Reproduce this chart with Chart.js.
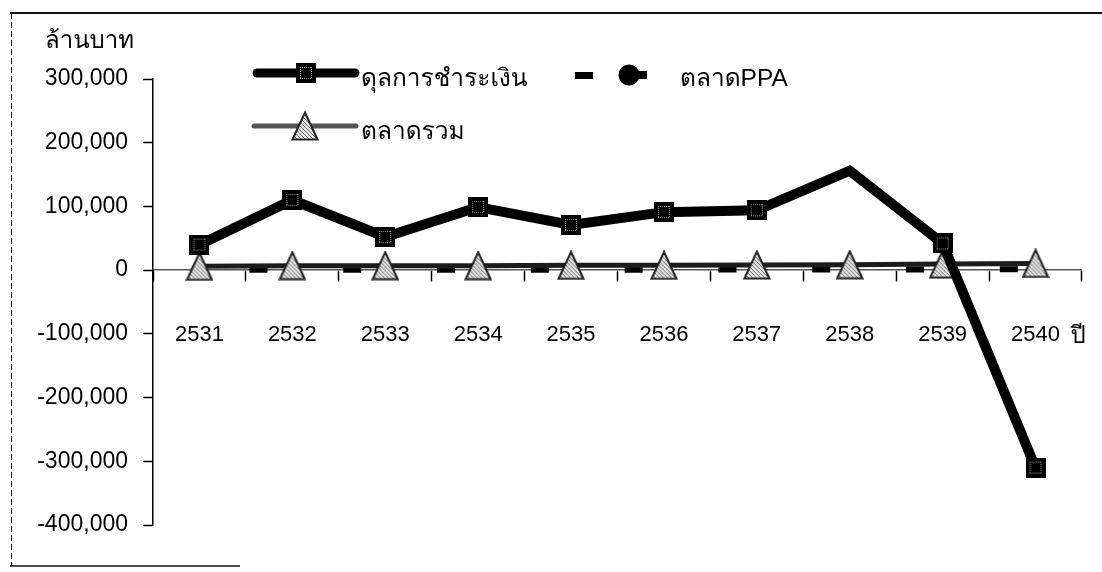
<!DOCTYPE html>
<html>
<head>
<meta charset="utf-8">
<script src="https://cdn.jsdelivr.net/npm/chart.js@4.4.1/dist/chart.umd.min.js"></script>
<style>
  html, body { margin: 0; padding: 0; background: #fff; }
  #wrap { width: 1102px; height: 572px; position: relative; }
</style>
</head>
<body>
<div id="wrap"><canvas id="c" width="1102" height="572"></canvas></div>
<script>
// Years (Buddhist era) on the category axis
const years = ['2531', '2532', '2533', '2534', '2535', '2536', '2537', '2538', '2539', '2540'];

// Series values, million baht
const balanceOfPayments = [40000, 110000, 52000, 99000, 71000, 91000, 94000, 156000, 42000, -310000];
const ppaMarket = [500, 500, 500, 500, 800, 800, 1000, 1000, 1200, 1500];
const totalMarket = [6000, 7000, 7000, 7000, 7500, 7500, 8000, 8500, 9500, 10500];

// Value axis range
const yMin = -400000;
const yMax = 300000;
const yStep = 100000;

// Labels
const seriesNames = ['ดุลการชำระเงิน', 'ตลาดPPA', 'ตลาดรวม'];
const yUnit = 'ล้านบาท';
const xUnit = 'ปี';

const FONT = "'Liberation Sans', Arial, 'Loma', 'Garuda', 'Norasi', 'Noto Sans Thai Looped', 'Noto Sans Thai', sans-serif";

// Square marker: solid black with a dotted grey inner outline
function makeSquare(size) {
  const c = document.createElement('canvas');
  c.width = size; c.height = size;
  const g = c.getContext('2d');
  g.fillStyle = '#000';
  g.fillRect(0, 0, size, size);
  g.fillStyle = '#999';
  for (let i = 4; i < size - 4; i += 2) {
    g.fillRect(i, 4, 1, 1); g.fillRect(i, size - 5, 1, 1);
    g.fillRect(4, i, 1, 1); g.fillRect(size - 5, i, 1, 1);
  }
  return c;
}

// Triangle marker: pale hatched body with a dark outline
function makeTriangle(w, h) {
  const c = document.createElement('canvas');
  c.width = w; c.height = h;
  const g = c.getContext('2d');
  const outline = () => {
    g.beginPath();
    g.moveTo(w / 2, 1.5);
    g.lineTo(w - 1.5, h - 1.5);
    g.lineTo(1.5, h - 1.5);
    g.closePath();
  };
  outline();
  g.fillStyle = '#e6e6e6';
  g.fill();
  g.save();
  g.clip();
  g.strokeStyle = '#666';
  g.lineWidth = 1;
  for (let k = -h; k < w + h; k += 4) {
    g.beginPath(); g.moveTo(k, 0); g.lineTo(k + h, h); g.stroke();
  }
  g.restore();
  outline();
  g.strokeStyle = '#222';
  g.lineWidth = 2;
  g.stroke();
  return c;
}

const squareMark = makeSquare(20);
const triMark = makeTriangle(28, 30);

// Page frame, unit captions and the legend block
const decorations = {
  id: 'decorations',
  beforeDraw(chart) {
    const ctx = chart.ctx;
    ctx.save();
    ctx.fillStyle = '#fff';
    ctx.fillRect(0, 0, chart.width, chart.height);
    ctx.strokeStyle = '#111';
    ctx.lineWidth = 2;
    ctx.beginPath(); ctx.moveTo(10, 13); ctx.lineTo(1102, 13); ctx.stroke();
    ctx.lineWidth = 1;
    ctx.setLineDash([6, 3]);
    ctx.beginPath(); ctx.moveTo(11.5, 13); ctx.lineTo(11.5, 566); ctx.stroke();
    ctx.setLineDash([]);
    ctx.lineWidth = 1.5;
    ctx.beginPath(); ctx.moveTo(10, 566); ctx.lineTo(240, 566); ctx.stroke();
    ctx.restore();
  },
  afterDraw(chart) {
    const ctx = chart.ctx;
    ctx.save();
    ctx.fillStyle = '#000';
    ctx.textBaseline = 'alphabetic';
    ctx.textAlign = 'left';
    ctx.font = '24px ' + FONT;
    ctx.fillText(yUnit, 45, 48);
    const xs = chart.scales.x;
    const zeroY = chart.scales.y.getPixelForValue(0);
    ctx.fillText(xUnit, xs.getPixelForValue(years.length - 1) + 35, zeroY + 73);

    ctx.font = '24.5px ' + FONT;
    // legend: balance of payments
    ctx.lineCap = 'round';
    ctx.strokeStyle = '#000';
    ctx.lineWidth = 9;
    ctx.beginPath(); ctx.moveTo(257, 73); ctx.lineTo(355, 73); ctx.stroke();
    ctx.drawImage(squareMark, 296, 63);
    ctx.fillStyle = '#000';
    ctx.fillText(seriesNames[0], 361, 86);

    // legend: PPA market
    ctx.fillRect(575, 72, 18, 7);
    ctx.fillRect(638, 71, 9, 8);
    ctx.beginPath(); ctx.arc(629, 75, 10.5, 0, Math.PI * 2); ctx.fill();
    ctx.fillText(seriesNames[1], 680, 86);

    // legend: total market
    ctx.strokeStyle = '#555';
    ctx.lineWidth = 5;
    ctx.setLineDash([3, 1]);
    ctx.beginPath(); ctx.moveTo(254, 126); ctx.lineTo(356, 126); ctx.stroke();
    ctx.setLineDash([]);
    ctx.drawImage(triMark, 305 - 14, 126 - 15);
    ctx.fillStyle = '#000';
    ctx.fillText(seriesNames[2], 361, 139);
    ctx.restore();
  }
};

const catWidth = (1091 - 153) / years.length;

new Chart(document.getElementById('c'), {
  type: 'line',
  data: {
    labels: years,
    datasets: [
      {
        label: seriesNames[0],
        data: balanceOfPayments,
        order: 0,
        borderColor: '#000',
        borderWidth: 10,
        borderJoinStyle: 'miter',
        pointStyle: balanceOfPayments.map((v, i) => i === 7 ? false : squareMark),
        pointRadius: 10,
        tension: 0
      },
      {
        label: seriesNames[2],
        data: totalMarket,
        order: 1,
        borderColor: '#1c1c1c',
        borderWidth: 5,
        pointStyle: triMark,
        pointRadius: 15,
        tension: 0
      },
      {
        label: seriesNames[1],
        data: ppaMarket,
        order: 2,
        borderColor: '#000',
        borderWidth: 6,
        borderDash: [18, catWidth - 18],
        borderDashOffset: catWidth - 50,
        pointStyle: 'circle',
        pointRadius: 5,
        pointBackgroundColor: '#000',
        pointBorderColor: '#000',
        tension: 0
      }
    ]
  },
  options: {
    responsive: false,
    animation: false,
    devicePixelRatio: 1,
    layout: { padding: { top: 79, bottom: 47, left: 0, right: 11 } },
    plugins: {
      legend: { display: false },
      tooltip: { enabled: false }
    },
    scales: {
      x: {
        type: 'category',
        position: { y: 0 },
        offset: true,
        grid: {
          offset: true,
          drawOnChartArea: false,
          drawTicks: true,
          tickLength: 11,
          tickWidth: 1.5,
          tickColor: '#000'
        },
        border: { display: true, color: '#555', width: 1.5 },
        ticks: {
          color: '#000',
          font: { family: FONT, size: 22 },
          padding: 41,
          maxRotation: 0,
          autoSkip: false
        }
      },
      y: {
        min: yMin,
        max: yMax,
        afterFit(scale) { scale.width = 153; },
        grid: {
          drawOnChartArea: false,
          drawTicks: true,
          tickLength: 10,
          tickWidth: 1.5,
          tickColor: '#000'
        },
        border: { display: true, color: '#000', width: 1.5 },
        ticks: {
          stepSize: yStep,
          color: '#000',
          padding: 15,
          font: { family: FONT, size: 23 },
          callback: (v) => v.toLocaleString('en-US')
        }
      }
    }
  },
  plugins: [decorations]
});
</script>
</body>
</html>
